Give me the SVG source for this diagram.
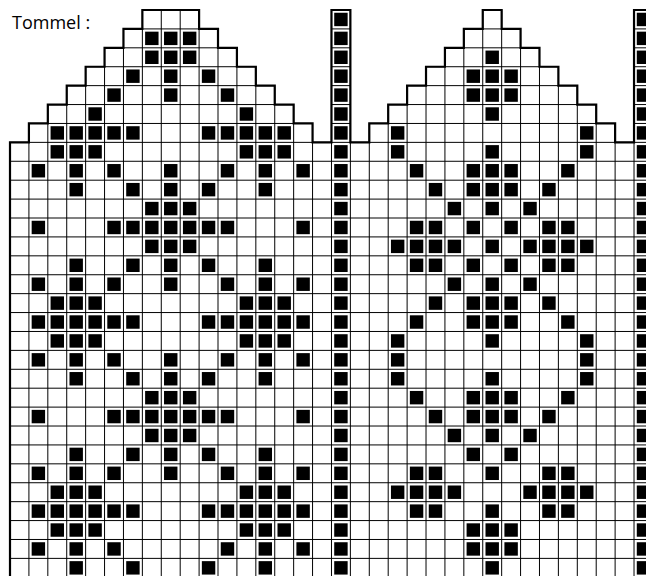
<svg xmlns="http://www.w3.org/2000/svg" width="646" height="576" viewBox="0 0 646 576">
<style>
.thin{fill:none;stroke:#000;stroke-width:1}
.thick{fill:none;stroke:#000;stroke-width:2.2;stroke-linejoin:miter;stroke-linecap:square}
.sq{fill:#000}
.title{font-family:"Open Sans","Noto Sans","Liberation Sans",sans-serif;font-size:18px;fill:#000}
</style>
<defs>
<rect id="q" class="sq" width=".71" height=".71"/>
<g id="col"><use href="#q" y="0"/><use href="#q" y="1"/><use href="#q" y="2"/><use href="#q" y="3"/><use href="#q" y="4"/><use href="#q" y="5"/><use href="#q" y="6"/><use href="#q" y="7"/><use href="#q" y="8"/><use href="#q" y="9"/><use href="#q" y="10"/><use href="#q" y="11"/><use href="#q" y="12"/><use href="#q" y="13"/><use href="#q" y="14"/><use href="#q" y="15"/><use href="#q" y="16"/><use href="#q" y="17"/><use href="#q" y="18"/><use href="#q" y="19"/><use href="#q" y="20"/><use href="#q" y="21"/><use href="#q" y="22"/><use href="#q" y="23"/><use href="#q" y="24"/><use href="#q" y="25"/><use href="#q" y="26"/><use href="#q" y="27"/><use href="#q" y="28"/><use href="#q" y="29"/></g>
<g id="a"><use href="#q" x="1"/><use href="#q" x="3"/><use href="#q" x="5"/><use href="#q" x="8"/><use href="#q" x="11"/><use href="#q" x="13"/><use href="#q" x="15"/></g>
<g id="b"><use href="#q" x="3"/><use href="#q" x="6"/><use href="#q" x="8"/><use href="#q" x="10"/><use href="#q" x="13"/></g>
<g id="c"><use href="#q" x="7"/><use href="#q" x="8"/><use href="#q" x="9"/></g>
<g id="d"><use href="#q" x="1"/><use href="#q" x="5"/><use href="#q" x="6"/><use href="#q" x="7"/><use href="#q" x="8"/><use href="#q" x="9"/><use href="#q" x="10"/><use href="#q" x="11"/><use href="#q" x="15"/></g>
<g id="e"><use href="#q" x="2"/><use href="#q" x="3"/><use href="#q" x="4"/><use href="#q" x="12"/><use href="#q" x="13"/><use href="#q" x="14"/></g>
<g id="f"><use href="#q" x="1"/><use href="#q" x="2"/><use href="#q" x="3"/><use href="#q" x="4"/><use href="#q" x="5"/><use href="#q" x="6"/><use href="#q" x="10"/><use href="#q" x="11"/><use href="#q" x="12"/><use href="#q" x="13"/><use href="#q" x="14"/><use href="#q" x="15"/></g>
<g id="p"><use href="#q" x="21"/><use href="#q" x="24"/><use href="#q" x="25"/><use href="#q" x="26"/><use href="#q" x="29"/></g>
<g id="s"><use href="#q" x="22"/><use href="#q" x="24"/><use href="#q" x="25"/><use href="#q" x="26"/><use href="#q" x="28"/></g>
<g id="t"><use href="#q" x="23"/><use href="#q" x="25"/><use href="#q" x="27"/></g>
<g id="u"><use href="#q" x="21"/><use href="#q" x="22"/><use href="#q" x="24"/><use href="#q" x="26"/><use href="#q" x="28"/><use href="#q" x="29"/></g>
<g id="v"><use href="#q" x="20"/><use href="#q" x="25"/><use href="#q" x="30"/></g>
<g id="w"><use href="#q" x="24"/><use href="#q" x="25"/><use href="#q" x="26"/></g>
<g id="x"><use href="#q" x="21"/><use href="#q" x="22"/><use href="#q" x="25"/><use href="#q" x="28"/><use href="#q" x="29"/></g>
</defs>
<rect width="646" height="576" fill="#fff"/>
<g id="title"><text class="title" x="12" y="29">Tommel :</text></g>
<g id="grid" transform="translate(10,10) scale(18.91)">
<path class="thin" vector-effect="non-scaling-stroke" d="M0 7V30.5M1 6V30.5M2 5V30.5M3 4V30.5M4 3V30.5M5 2V30.5M6 1V30.5M7 0V30.5M8 0V30.5M9 0V30.5M10 0V30.5M11 1V30.5M12 2V30.5M13 3V30.5M14 4V30.5M15 5V30.5M16 6V30.5M17 0V30.5M18 0V30.5M19 6V30.5M20 5V30.5M21 4V30.5M22 3V30.5M23 2V30.5M24 1V30.5M25 0V30.5M26 0V30.5M27 1V30.5M28 2V30.5M29 3V30.5M30 4V30.5M31 5V30.5M32 6V30.5M33 0V30.5M34 0V30.5"/>
<path class="thin" vector-effect="non-scaling-stroke" d="M7 0H10M17 0H18M25 0H26M33 0H34M6 1H11M17 1H18M24 1H27M33 1H34M5 2H12M17 2H18M23 2H28M33 2H34M4 3H13M17 3H18M22 3H29M33 3H34M3 4H14M17 4H18M21 4H30M33 4H34M2 5H15M17 5H18M20 5H31M33 5H34M1 6H16M17 6H18M19 6H32M33 6H34M0 7H34M0 8H34M0 9H34M0 10H34M0 11H34M0 12H34M0 13H34M0 14H34M0 15H34M0 16H34M0 17H34M0 18H34M0 19H34M0 20H34M0 21H34M0 22H34M0 23H34M0 24H34M0 25H34M0 26H34M0 27H34M0 28H34M0 29H34M0 30H34"/>
<path id="outline" class="thick" vector-effect="non-scaling-stroke" d="M0 31V7H1V6H2V5H3V4H4V3H5V2H6V1H7V0H10V1H11V2H12V3H13V4H14V5H15V6H16V7H17V0H18V7H19V6H20V5H21V4H22V3H23V2H24V1H25V0H26V1H27V2H28V3H29V4H30V5H31V6H32V7H33V0H35"/>
</g>
<g transform="translate(12.75,12.75) scale(18.91)">
<g id="left-mitten">
<use href="#c" y="1"/><use href="#c" y="2"/>
<use href="#q" x="6" y="3"/><use href="#q" x="8" y="3"/><use href="#q" x="10" y="3"/>
<use href="#q" x="5" y="4"/><use href="#q" x="8" y="4"/><use href="#q" x="11" y="4"/>
<use href="#q" x="4" y="5"/><use href="#q" x="12" y="5"/>
<use href="#q" x="2" y="6"/><use href="#q" x="3" y="6"/><use href="#q" x="4" y="6"/><use href="#q" x="5" y="6"/><use href="#q" x="6" y="6"/><use href="#q" x="10" y="6"/><use href="#q" x="11" y="6"/><use href="#q" x="12" y="6"/><use href="#q" x="13" y="6"/><use href="#q" x="14" y="6"/>
<use href="#e" y="7"/><use href="#a" y="8"/><use href="#b" y="9"/><use href="#c" y="10"/><use href="#d" y="11"/><use href="#c" y="12"/><use href="#b" y="13"/><use href="#a" y="14"/><use href="#e" y="15"/><use href="#f" y="16"/><use href="#e" y="17"/><use href="#a" y="18"/><use href="#b" y="19"/><use href="#c" y="20"/><use href="#d" y="21"/><use href="#c" y="22"/><use href="#b" y="23"/><use href="#a" y="24"/><use href="#e" y="25"/><use href="#f" y="26"/><use href="#e" y="27"/>
<use href="#q" x="1" y="28"/><use href="#q" x="3" y="28"/><use href="#q" x="5" y="28"/><use href="#q" x="11" y="28"/><use href="#q" x="13" y="28"/><use href="#q" x="15" y="28"/>
<use href="#q" x="3" y="29"/><use href="#q" x="6" y="29"/><use href="#q" x="10" y="29"/><use href="#q" x="13" y="29"/>
</g>
<g id="left-stripe"><use href="#col" x="17"/></g>
<g id="right-mitten">
<use href="#q" x="25" y="2"/>
<use href="#w" y="3"/><use href="#w" y="4"/>
<use href="#q" x="25" y="5"/>
<use href="#q" x="20" y="6"/><use href="#q" x="30" y="6"/>
<use href="#v" y="7"/><use href="#p" y="8"/><use href="#s" y="9"/><use href="#t" y="10"/><use href="#u" y="11"/>
<use href="#q" x="20" y="12"/><use href="#q" x="21" y="12"/><use href="#q" x="22" y="12"/><use href="#q" x="23" y="12"/><use href="#q" x="25" y="12"/><use href="#q" x="27" y="12"/><use href="#q" x="28" y="12"/><use href="#q" x="29" y="12"/><use href="#q" x="30" y="12"/>
<use href="#u" y="13"/><use href="#t" y="14"/><use href="#s" y="15"/><use href="#p" y="16"/><use href="#v" y="17"/>
<use href="#q" x="20" y="18"/><use href="#q" x="30" y="18"/>
<use href="#v" y="19"/><use href="#p" y="20"/><use href="#s" y="21"/><use href="#t" y="22"/>
<use href="#q" x="24" y="23"/><use href="#q" x="26" y="23"/>
<use href="#x" y="24"/>
<use href="#q" x="20" y="25"/><use href="#q" x="21" y="25"/><use href="#q" x="22" y="25"/><use href="#q" x="23" y="25"/><use href="#q" x="27" y="25"/><use href="#q" x="28" y="25"/><use href="#q" x="29" y="25"/><use href="#q" x="30" y="25"/>
<use href="#x" y="26"/><use href="#w" y="27"/><use href="#w" y="28"/>
<use href="#q" x="25" y="29"/>
</g>
<g id="right-stripe"><use href="#col" x="33"/></g>
</g>
</svg>
